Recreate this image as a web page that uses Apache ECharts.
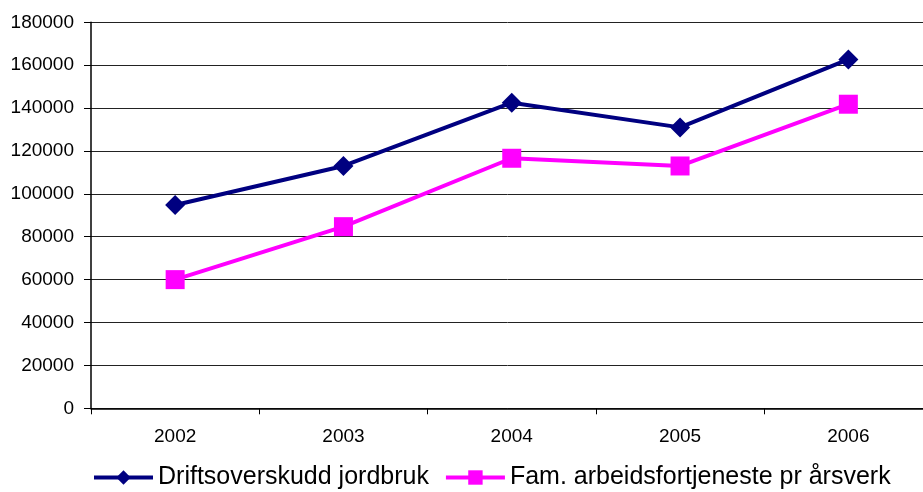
<!DOCTYPE html>
<html>
<head>
<meta charset="utf-8">
<script src="https://cdn.jsdelivr.net/npm/echarts@6/dist/echarts.min.js"></script>
<style>
  html, body { margin: 0; padding: 0; background: #fff; }
  #chart { width: 923px; height: 492px; }
</style>
</head>
<body>
<div id="chart"></div>
<script>
// år og verdier lest av figuren
const years = ['2002', '2003', '2004', '2005', '2006'];
const driftsoverskudd = [94800, 113000, 142500, 131000, 162700];
const famArbeid = [60000, 84700, 116600, 113000, 141800];

const fontFam = '"Liberation Sans", Arial, sans-serif';

var chart = echarts.init(document.getElementById('chart'));

var option = {
    animation: false,
    backgroundColor: '#fff',
    textStyle: { fontFamily: fontFam, color: '#000' },
    grid: {
        left: 91, width: 841.5, top: 22.3, bottom: 83.7,
        containLabel: false, outerBoundsMode: 'none'
    },
    legend: {
        left: 92,
        top: 465,
        padding: 0,
        itemWidth: 59,
        itemHeight: 18,
        itemGap: 15,
        lineStyle: { width: 4 },
        textStyle: { fontSize: 25, color: '#000', fontFamily: fontFam },
        data: ['Driftsoverskudd jordbruk', 'Fam. arbeidsfortjeneste pr årsverk']
    },
    xAxis: {
        type: 'category',
        data: years,
        boundaryGap: true,
        axisLine: { lineStyle: { color: '#000', width: 1.5 } },
        axisTick: { show: true, length: 6, lineStyle: { color: '#000' } },
        axisLabel: { fontSize: 19, color: '#000', margin: 19 }
    },
    yAxis: {
        type: 'value',
        min: 0,
        max: 180000,
        interval: 20000,
        axisLine: { show: true, lineStyle: { color: '#000', width: 1.5 } },
        axisTick: { show: true, length: 7, lineStyle: { color: '#000' } },
        axisLabel: { fontSize: 19, color: '#000', margin: 17, formatter: v => String(v) },
        splitLine: { show: true, lineStyle: { color: '#222', width: 1 } }
    },
    series: [
        {
            name: 'Driftsoverskudd jordbruk',
            type: 'line',
            data: driftsoverskudd,
            symbol: 'diamond',
            symbolSize: 20,
            lineStyle: { color: '#000080', width: 4 },
            itemStyle: { color: '#000080' }
        },
        {
            name: 'Fam. arbeidsfortjeneste pr årsverk',
            type: 'line',
            data: famArbeid,
            symbol: 'rect',
            symbolSize: 19,
            lineStyle: { color: '#FF00FF', width: 4 },
            itemStyle: { color: '#FF00FF' }
        }
    ]
};

option && chart.setOption(option);
</script>
</body>
</html>
